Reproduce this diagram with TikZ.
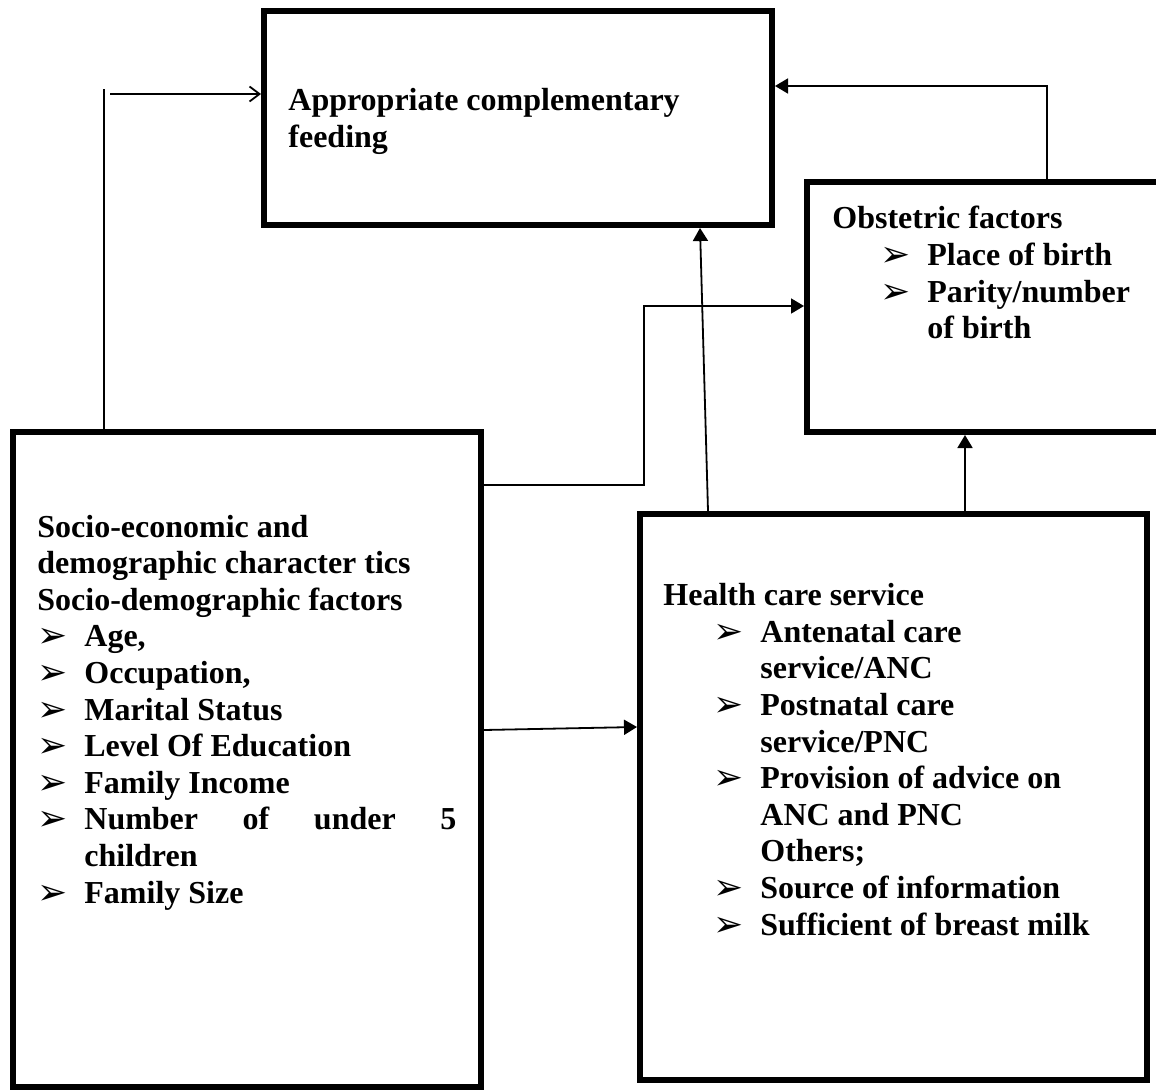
\documentclass[tikz,border=0pt]{standalone}
\usepackage{fontspec}
\setmainfont{Liberation Serif}
\newfontfamily\dejavu{DejaVu Sans}
\usetikzlibrary{arrows.meta}
\newcommand{\bul}{{\dejavu\fontsize{18}{18}\selectfont\raisebox{-0.5pt}{➢}}}
\newcommand{\itm}[1]{\makebox[23.5pt][l]{\bul}#1}
\begin{document}
\begin{tikzpicture}[
        x=0.5pt, y=-0.5pt,
        box/.style={draw, line width=3pt, inner sep=0pt, rectangle},
        txt/.style={anchor=base west, align=left, inner sep=0pt, font=\bfseries\fontsize{16}{18.3}\selectfont},
        line/.style={draw, line width=0.9pt},
        arr/.style={line, -{Triangle[length=6.5pt,width=7.5pt]}},
        openarr/.style={line, -{Straight Barb[length=5pt,width=7.5pt]}},
    ]
    \useasboundingbox (0,0) rectangle (1156,1091);

    \node[box, minimum width=254pt, minimum height=107pt] (feed) at (518,118) {};
    \node[box, minimum width=189pt, minimum height=125pt] (obst) at (996,307) {};
    \node[box, minimum width=234pt, minimum height=327.5pt] (socio) at (247,759.5) {};
    \node[box, minimum width=253.5pt, minimum height=283pt] (health) at (893.5,797) {};

    \node[txt] (feedtxt) at (288,147.6) {Appropriate complementary\\feeding};
    \node[txt] (obsttxt) at (832,338.8) {Obstetric factors\\
        \hspace*{24pt}\itm{Place of birth}\\
        \hspace*{24pt}\itm{Parity/number}\\
        \hspace*{47.5pt}of birth};
    \node[txt] (sociotxt) at (37,903) {Socio-economic and\\
        demographic character tics\\
        Socio-demographic factors\\
        \itm{Age,}\\
        \itm{Occupation,}\\
        \itm{Marital Status}\\
        \itm{Level Of Education}\\
        \itm{Family Income}\\
        \itm{\makebox[186pt][s]{Number of under 5}}\\
        \hspace*{23.5pt}children\\
        \itm{Family Size}};
    \node[txt] (healthtxt) at (663,935) {Health care service\\
        \hspace*{25pt}\itm{Antenatal care}\\
        \hspace*{48.5pt}service/ANC\\
        \hspace*{25pt}\itm{Postnatal care}\\
        \hspace*{48.5pt}service/PNC\\
        \hspace*{25pt}\itm{Provision of advice on}\\
        \hspace*{48.5pt}ANC and PNC\\
        \hspace*{48.5pt}Others;\\
        \hspace*{25pt}\itm{Source of information}\\
        \hspace*{25pt}\itm{Sufficient of breast milk}};

    \coordinate (st) at (104,89);
    \coordinate (sa) at (110,94);
    \coordinate (ot) at (1047,86);
    \coordinate (sj) at (644,485);
    \coordinate (sk) at (644,306);
    \coordinate (hf) at (708,0);
    \coordinate (fh) at (700,0);
    \coordinate (ho) at (965,0);
    \coordinate (sh) at (0,730);
    \coordinate (hs) at (0,727);

    \draw[line] (socio.north -| st) -- (st);
    \draw[openarr] (sa) -- (sa -| feed.west);
    \draw[arr] (obst.north -| ot) -- (ot) -- (ot -| feed.east);
    \draw[arr] (socio.east |- sj) -- (sj) -- (sk) -- (sk -| obst.west);
    \draw[arr] (health.north -| hf) -- (feed.south -| fh);
    \draw[arr] (health.north -| ho) -- (obst.south -| ho);
    \draw[arr] (socio.east |- sh) -- (health.west |- hs);

\end{tikzpicture}
\end{document}
